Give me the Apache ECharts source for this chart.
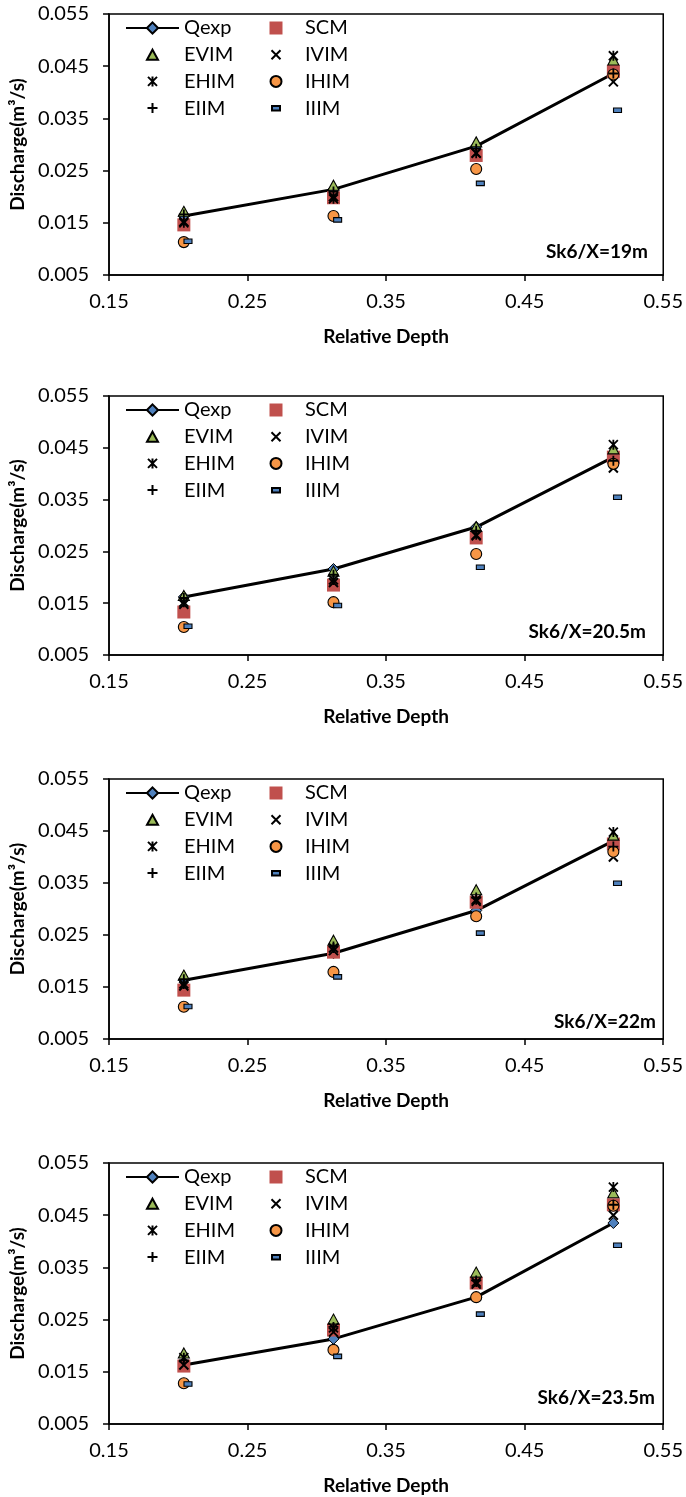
<!DOCTYPE html>
<html><head><meta charset="utf-8">
<script src="https://cdn.jsdelivr.net/npm/echarts@6/dist/echarts.min.js"></script>
<style>html,body{margin:0;padding:0;background:#fff}#c{width:686px;height:1497px}</style>
</head><body><div id="c"></div>
<script>
// ---------- data ----------
const relDepth = [0.204, 0.312, 0.415, 0.514];
const relDepthIIIM = [0.207, 0.315, 0.418, 0.517];
const xTicks = [0.15, 0.25, 0.35, 0.45, 0.55];
const yTicks = [0.005, 0.015, 0.025, 0.035, 0.045, 0.055];
const panelLabels = ['Sk6/X=19m', 'Sk6/X=20.5m', 'Sk6/X=22m', 'Sk6/X=23.5m'];
const seriesNames = ['Qexp', 'SCM', 'EVIM', 'IVIM', 'EHIM', 'IHIM', 'EIIM', 'IIIM'];
const xAxisTitle = 'Relative Depth';
const yAxisTitle = 'Discharge(m³/s)';

// one list per panel (19m, 20.5m, 22m, 23.5m)
const Qexp = [[0.0163, 0.0214, 0.0297, 0.0436], [0.0162, 0.0216, 0.0297, 0.0432], [0.0163, 0.0215, 0.0297, 0.0431], [0.0163, 0.0213, 0.0293, 0.0435]];
const SCM  = [[0.0146, 0.0198, 0.0279, 0.0440], [0.0133, 0.0185, 0.0276, 0.0432], [0.0144, 0.0217, 0.0313, 0.0425], [0.0161, 0.0230, 0.0320, 0.0470]];
const EVIM = [[0.0172, 0.0222, 0.0305, 0.0462], [0.0165, 0.0212, 0.0298, 0.0448], [0.0173, 0.0240, 0.0337, 0.0442], [0.0186, 0.0251, 0.0341, 0.0493]];
const IVIM = [[0.0152, 0.0200, 0.0284, 0.0420], [0.0148, 0.0190, 0.0280, 0.0411], [0.0152, 0.0220, 0.0315, 0.0400], [0.0163, 0.0226, 0.0318, 0.0450]];
const EHIM = [[0.0150, 0.0196, 0.0283, 0.0470], [0.0152, 0.0195, 0.0282, 0.0456], [0.0156, 0.0225, 0.0318, 0.0448], [0.0177, 0.0234, 0.0322, 0.0504]];
const IHIM = [[0.0113, 0.0163, 0.0253, 0.0434], [0.0104, 0.0152, 0.0245, 0.0419], [0.0112, 0.0179, 0.0286, 0.0410], [0.0128, 0.0192, 0.0293, 0.0468]];
const EIIM = [[0.0166, 0.0210, 0.0292, 0.0436], [0.0160, 0.0205, 0.0290, 0.0425], [0.0165, 0.0228, 0.0322, 0.0420], [0.0172, 0.0236, 0.0325, 0.0470]];
const IIIM = [[0.0115, 0.0156, 0.0226, 0.0366], [0.0106, 0.0146, 0.0220, 0.0355], [0.0113, 0.0170, 0.0254, 0.0350], [0.0127, 0.0180, 0.0261, 0.0393]];

// ---------- layout / style ----------
const panelTop = [14, 396, 779, 1163];
const panelHeight = [261, 259, 260, 261];
const labelPos = [[648, 252], [646, 632], [656, 1022], [655, 1398]];
const FONT = 'Lato, "Open Sans", sans-serif';
const PAD = 'path://M0,0M14,14';
const styles = {
  SCM:  {symbol: PAD + 'M0.5,0.5H13.5V13.5H0.5Z', itemStyle: {color: '#C0504D', borderWidth: 0, opacity: 1}},
  EVIM: {symbol: PAD + 'M7,2L12.5,12L1.5,12Z', itemStyle: {color: '#9BBB59', borderColor: '#000', borderWidth: 1.1, opacity: 1}},
  IVIM: {symbol: PAD + 'M2.5,2.5L11.5,11.5M11.5,2.5L2.5,11.5', itemStyle: {color: 'rgba(0,0,0,0)', borderColor: '#000', borderWidth: 2, opacity: 1}},
  EHIM: {symbol: PAD + 'M2.5,2.5L11.5,11.5M11.5,2.5L2.5,11.5M7,2L7,12', itemStyle: {color: 'rgba(0,0,0,0)', borderColor: '#000', borderWidth: 1.8, opacity: 1}},
  IHIM: {symbol: PAD + 'M1.5,7A5.5,5.5,0,1,0,12.5,7A5.5,5.5,0,1,0,1.5,7Z', itemStyle: {color: '#F79646', borderColor: '#000', borderWidth: 1.1, opacity: 1}},
  EIIM: {symbol: PAD + 'M7,2V12M2,7H12', itemStyle: {color: 'rgba(0,0,0,0)', borderColor: '#000', borderWidth: 1.8, opacity: 1}},
  IIIM: {symbol: PAD + 'M3,5H11V9.5H3Z', itemStyle: {color: '#4F81BD', borderColor: '#000', borderWidth: 1.1, opacity: 1}}
};
const dataBySeries = {Qexp, SCM, EVIM, IVIM, EHIM, IHIM, EIIM, IIIM};

const grids = [], xAxes = [], yAxes = [], series = [], legends = [], graphics = [];
for (let p = 0; p < 4; p++) {
  grids.push({left: 108, width: 559, top: panelTop[p], height: panelHeight[p], show: true,
    borderColor: '#000', borderWidth: 1.5, backgroundColor: 'transparent'});
  xAxes.push({type: 'value', gridIndex: p, min: xTicks[0], max: xTicks[xTicks.length - 1],
    name: xAxisTitle, nameLocation: 'middle', nameGap: 52,
    nameTextStyle: {fontFamily: FONT, fontWeight: 'bold', fontSize: 19, color: '#000'},
    axisLine: {show: true, lineStyle: {color: '#000', width: 1.5}},
    axisTick: {show: true, length: 6, lineStyle: {color: '#000', width: 1.5}, customValues: xTicks},
    axisLabel: {customValues: xTicks, formatter: v => v.toFixed(2), fontFamily: FONT, fontSize: 20, color: '#000', margin: 17},
    splitLine: {show: false}});
  yAxes.push({type: 'value', gridIndex: p, min: yTicks[0], max: yTicks[yTicks.length - 1],
    name: yAxisTitle, nameLocation: 'middle', nameGap: 80,
    nameTextStyle: {fontFamily: FONT, fontWeight: 'bold', fontSize: 19, color: '#000'},
    axisLine: {show: true, lineStyle: {color: '#000', width: 1.5}},
    axisTick: {show: true, length: 6, lineStyle: {color: '#000', width: 1.5}, customValues: yTicks},
    axisLabel: {customValues: yTicks, formatter: v => v.toFixed(3), fontFamily: FONT, fontSize: 20, color: '#000', margin: 20},
    splitLine: {show: false}});
  seriesNames.forEach((name, k) => {
    const xs = name === 'IIIM' ? relDepthIIIM : relDepth;
    const pts = dataBySeries[name][p].map((v, i) => [xs[i], v]);
    if (name === 'Qexp') {
      series.push({name, type: 'line', xAxisIndex: p, yAxisIndex: p, data: pts, z: 1,
        symbol: 'diamond', symbolSize: 11, showSymbol: true,
        itemStyle: {color: '#4F81BD', borderColor: '#000', borderWidth: 1, opacity: 1},
        lineStyle: {color: '#000', width: 3}});
    } else {
      series.push({name, type: 'scatter', xAxisIndex: p, yAxisIndex: p, data: pts, z: 2 + k,
        symbol: styles[name].symbol, symbolSize: 14, symbolKeepAspect: true,
        itemStyle: styles[name].itemStyle});
    }
  });
  const legCommon = {orient: 'vertical', padding: 0, itemHeight: 14, itemGap: 6.7, selectedMode: false,
    top: panelTop[p] + 4, textStyle: {fontFamily: FONT, fontSize: 20, color: '#000', lineHeight: 20}};
  legends.push(Object.assign({}, legCommon, {left: 125, itemWidth: 53, data: ['Qexp', 'EVIM', 'EHIM', 'EIIM']}));
  legends.push(Object.assign({}, legCommon, {left: 268, itemWidth: 48, data: ['SCM', 'IVIM', 'IHIM', 'IIIM']}));
  graphics.push({type: 'text', x: labelPos[p][0], y: labelPos[p][1],
    style: {text: panelLabels[p], font: 'bold 19px ' + FONT, fill: '#000', textAlign: 'right', textVerticalAlign: 'middle'}});
}

const chart = echarts.init(document.getElementById('c'), null, {renderer: 'canvas'});
chart.setOption({animation: false, backgroundColor: '#fff', grid: grids, xAxis: xAxes, yAxis: yAxes,
  series, legend: legends, graphic: graphics});
</script></body></html>
